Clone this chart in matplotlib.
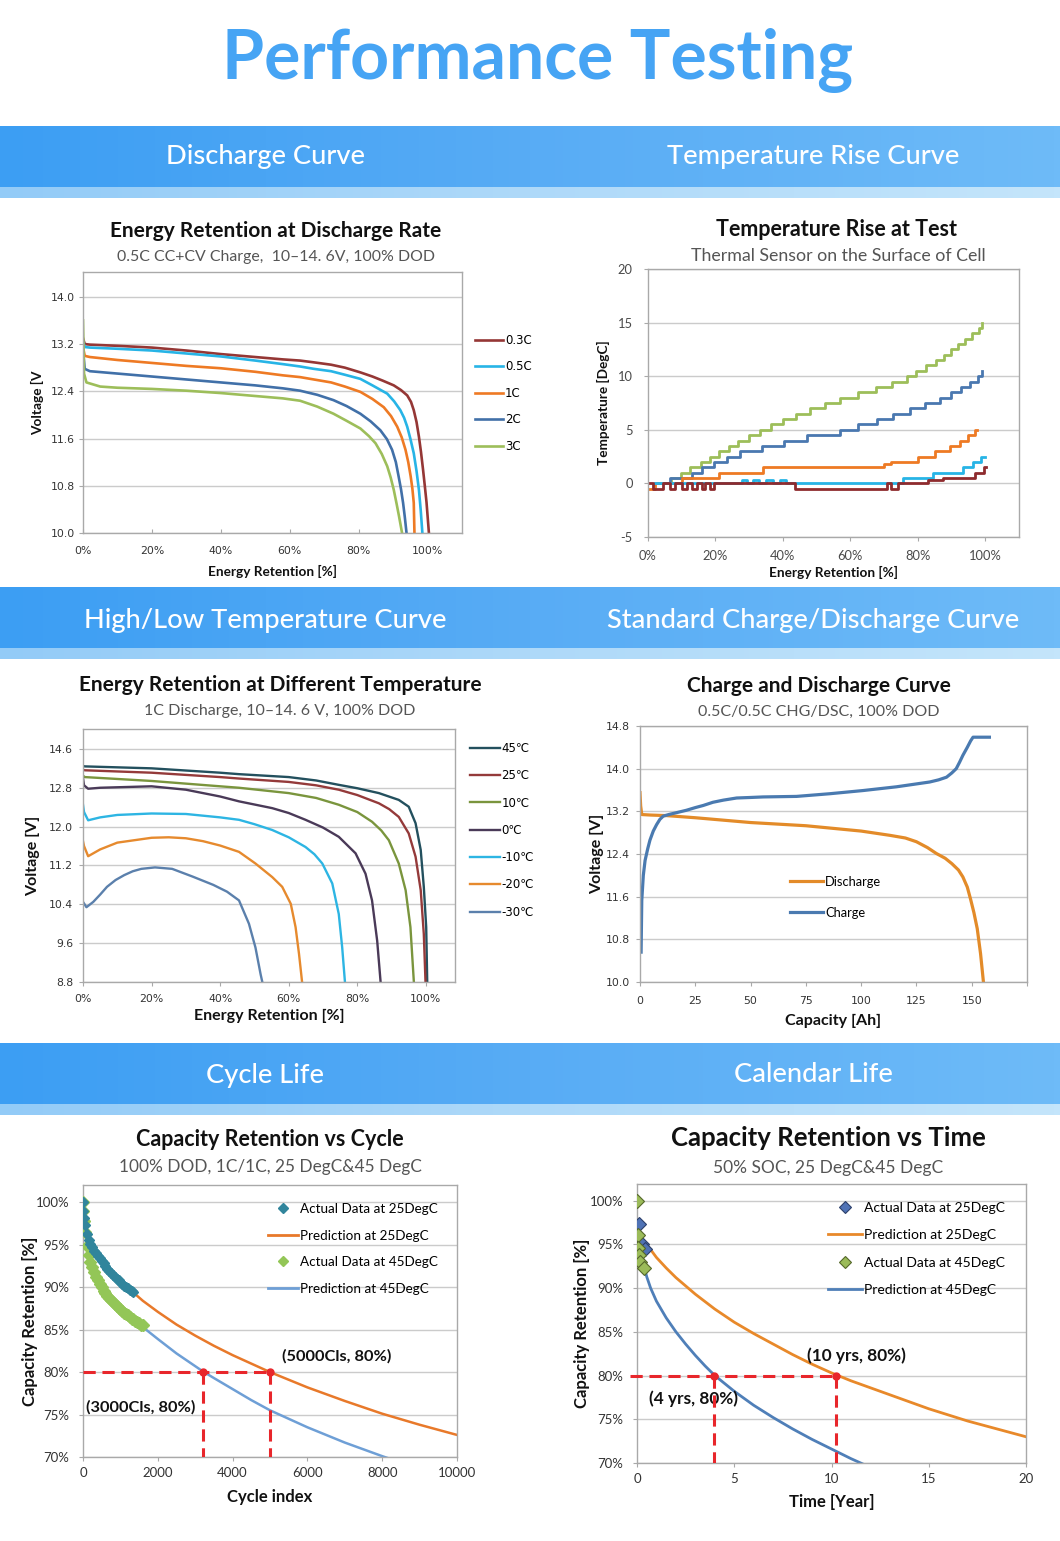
import numpy as np
import matplotlib
matplotlib.use('Agg')
import matplotlib.pyplot as plt
from matplotlib.colors import LinearSegmentedColormap
from matplotlib.ticker import FuncFormatter

plt.rcParams['axes.unicode_minus'] = False

W, H = 1060, 1541
fig = plt.figure(figsize=(W / 100, H / 100), dpi=100)
fig.patch.set_facecolor('white')

# ------------------------------------------------------------------ data
# Panel 1: Energy retention at discharge rate (x in %, voltage in V)
rate_labels = ['0.3C', '0.5C', '1C', '2C', '3C']
rate_colors = ['#953735', '#27B4E6', '#EE7A24', '#4170A8', '#9DBE5A']
r03_x = [0, 0.5, 2, 10, 20, 30, 40, 50, 58, 63, 67, 72, 76, 80.5, 84, 87, 90.2, 92.3, 94.1, 95.2,
         96, 96.8, 97.5, 98.1, 98.7, 99.2, 99.7, 100.4]
r03_v = [13.3, 13.2, 13.19, 13.17, 13.14, 13.09, 13.03, 12.98, 12.94, 12.92, 12.89, 12.85, 12.8,
         12.72, 12.65, 12.58, 12.5, 12.42, 12.33, 12.22, 12.08, 11.88, 11.63, 11.37, 11.07, 10.8,
         10.52, 10.0]
r05_x = [0, 0.5, 2, 10, 20, 30, 40, 50, 58, 63, 67, 72, 76, 80.5, 84, 88.3, 90.3, 92.1, 93.2, 94.1,
         95, 96, 96.8, 97.5, 98.0, 98.5]
r05_v = [13.25, 13.15, 13.14, 13.12, 13.09, 13.04, 12.99, 12.92, 12.86, 12.82, 12.78, 12.74, 12.68,
         12.61, 12.5, 12.36, 12.23, 12.08, 11.95, 11.8, 11.6, 11.35, 11.05, 10.73, 10.4, 10.0]
r1_x = [0, 0.5, 2, 10, 20, 30, 40, 50, 58, 63, 67, 72, 76, 80.5, 84, 87.3, 89.4, 91.2, 92.5, 93.6,
        94.4, 95.1, 95.6, 96, 96.2]
r1_v = [13.15, 13.0, 12.98, 12.93, 12.88, 12.83, 12.79, 12.73, 12.67, 12.64, 12.6, 12.55, 12.48,
        12.39, 12.27, 12.13, 11.98, 11.8, 11.62, 11.41, 11.2, 10.96, 10.75, 10.51, 10.0]
r2_x = [0, 0.5, 2, 10, 20, 30, 40, 50, 58, 63, 68, 72.7, 76.5, 80.5, 83.5, 86.3, 88.2, 89.7, 90.8,
        91.6, 92.3, 92.9, 93.4, 93.9]
r2_v = [13.1, 12.78, 12.74, 12.7, 12.65, 12.6, 12.55, 12.5, 12.45, 12.41, 12.34, 12.25, 12.15,
        12.02, 11.89, 11.74, 11.59, 11.41, 11.2, 10.96, 10.74, 10.51, 10.27, 10.0]
r3_x = [0, 0.3, 1, 5, 10, 20, 30, 40, 50, 58, 63, 68, 72.7, 76.5, 80.5, 83, 84.9, 86.7, 88.3, 89.3,
        90.2, 91.0, 91.7, 92.2, 92.6]
r3_v = [13.6, 12.7, 12.55, 12.48, 12.46, 12.44, 12.41, 12.37, 12.32, 12.28, 12.24, 12.14, 12.02,
        11.9, 11.77, 11.64, 11.52, 11.34, 11.13, 10.94, 10.73, 10.5, 10.29, 10.13, 10.0]

# Panel 2: Temperature rise (step data, x in %, T in DegC)
tr3_x = [3.5, 6.8, 9.7, 12.6, 15.6, 18.4, 21.1, 23.9, 26.6, 29.8, 33.1, 36.4, 40.1, 44.0, 47.9, 52.4,
         56.9, 62.4, 67.7, 72.2, 76.7, 79.6, 82.5, 85.4, 87.8, 89.9, 92.0, 94.0, 96.1, 98.0, 99.0]
tr3_T = [0.0, 0.5, 1.0, 1.5, 2.0, 2.5, 3.0, 3.5, 4.0, 4.5, 5.0, 5.5, 6.0, 6.5, 7.0, 7.5,
         8.0, 8.5, 9.0, 9.5, 10.0, 10.5, 11.0, 11.5, 12.0, 12.5, 13.0, 13.5, 14.0, 14.5, 15.0]
tr2_x = [2, 6.5, 13.0, 16.1, 19.6, 23.4, 27.2, 33.8, 40.4, 47.0, 56.9, 62.4, 67.8, 72.7, 77.6, 82.1,
         86.6, 89.9, 92.9, 95.5, 97.8, 99.0]
tr2_T = [0.0, 0.5, 1.0, 1.5, 2.0, 2.5, 3.0, 3.5, 4.0, 4.5, 5.0, 5.5, 6.0, 6.5, 7.0, 7.5,
         8.0, 8.5, 9.0, 9.5, 10.0, 10.5]
tr1_x = [0, 2, 10, 21, 34, 70, 72, 80, 85, 89.5, 92.5, 95, 97, 97.5]
tr1_T = [-0.5, 0.0, 0.5, 1.0, 1.5, 1.8, 2.0, 2.5, 3.0, 3.5, 4.0, 4.5, 5.0, 5.0]
tr05_x = [2, 28, 29.5, 31, 33, 35, 37, 39, 41, 75.5, 84.5, 93.5, 96.5, 98.8, 99.8]
tr05_T = [0.0, 0.3, 0.0, 0.3, 0.0, 0.3, 0.0, 0.3, 0.0, 0.5, 1.0, 1.5, 2.0, 2.5, 2.5]
tr03_x = [0, 1.5, 4.5, 6.5, 8, 10, 11.5, 13, 14.5, 16, 17, 18.5, 19.5, 20.5, 43.5, 71, 72, 74,
          83, 87.5, 97, 99.6, 100.3]
tr03_T = [0, -0.5, 0, -0.5, 0, -0.5, 0, -0.5, 0, -0.5, 0, -0.5, 0, 0, -0.5, 0, -0.5, 0,
          0.3, 0.5, 1.0, 1.5, 1.5]

# Panel 3: Energy retention at different temperature
temp_labels = ['45\u2103', '25\u2103', '10\u2103', '0\u2103', '-10\u2103', '-20\u2103', '-30\u2103']
temp_colors = ['#23505E', '#943A3A', '#7A953D', '#4A3A58', '#2DB5E3', '#E68A2E', '#5B80AC']
t45_x = [0, 0.5, 20, 40, 45.5, 60, 68, 74.6, 80, 86.3, 92.1, 95, 97, 98.5, 99.4, 100.1, 100.4]
t45_v = [13.25, 13.24, 13.2, 13.11, 13.08, 13.02, 12.95, 12.86, 12.79, 12.69, 12.55, 12.41, 12.07,
         11.52, 10.76, 9.93, 8.8]
t25_x = [0, 0.5, 20, 40, 45.5, 60, 68, 74.6, 80, 86.3, 89.3, 92.1, 95, 97, 98.5, 99.4, 99.9]
t25_v = [13.17, 13.16, 13.11, 13.02, 12.99, 12.92, 12.85, 12.76, 12.65, 12.48, 12.36, 12.2, 11.86,
         11.38, 10.69, 9.79, 8.8]
t10_x = [0, 0.5, 20, 40, 45.5, 60, 68, 74.6, 80, 84.3, 87, 89.2, 92.1, 94.1, 95.5, 96.5]
t10_v = [13.05, 13.02, 12.94, 12.83, 12.8, 12.69, 12.59, 12.45, 12.3, 12.1, 11.92, 11.72, 11.24,
         10.69, 9.93, 8.8]
t0_x = [0, 0.3, 1.5, 5, 20, 30, 40, 45.5, 55.2, 60, 64.9, 70, 74.6, 79.5, 82.4, 84.3, 85.8, 86.8]
t0_v = [13.0, 12.85, 12.78, 12.8, 12.83, 12.76, 12.62, 12.52, 12.38, 12.28, 12.14, 11.98, 11.79,
        11.45, 11.03, 10.48, 9.65, 8.8]
tm10_x = [0, 0.3, 1.5, 5, 10, 20, 30, 40, 45.5, 50, 55.2, 60, 64.9, 67.5, 69.8, 72.7, 74.6, 75.6, 76.4]
tm10_v = [12.45, 12.3, 12.13, 12.19, 12.24, 12.27, 12.26, 12.19, 12.14, 12.05, 11.93, 11.78, 11.58,
          11.43, 11.24, 10.83, 10.2, 9.51, 8.8]
tm20_x = [0, 0.3, 1.5, 5, 10, 20, 25, 30, 35, 40, 45.5, 50.3, 55.2, 58.1, 60.6, 62, 63, 63.9]
tm20_v = [11.7, 11.6, 11.39, 11.53, 11.67, 11.77, 11.78, 11.76, 11.7, 11.61, 11.48, 11.24, 10.96,
          10.76, 10.41, 9.93, 9.38, 8.8]
tm30_x = [0, 1, 3, 5, 7, 9.5, 12, 14.5, 17, 21, 26, 32, 38, 42, 45.5, 48.4, 50.3, 51.8, 52.3]
tm30_v = [10.45, 10.34, 10.45, 10.6, 10.76, 10.9, 11.0, 11.08, 11.13, 11.16, 11.13, 10.97, 10.8,
          10.66, 10.48, 10.0, 9.51, 8.96, 8.8]
p3_yticks = [8.8, 9.6, 10.4, 11.2, 12.0, 12.8, 13.6]
p3_yticklabels = ['8.8', '9.6', '10.4', '11.2', '12.0', '12.8', '14.6']

# Panel 4: charge / discharge (capacity Ah, voltage V)
dis_x = [0, 0.3, 0.8, 5, 12, 25, 50, 75, 100, 113, 120, 125, 130, 134, 138, 141, 144, 146, 148,
         149.5, 151, 152.5, 154, 155.3]
dis_v = [13.55, 13.3, 13.14, 13.13, 13.12, 13.08, 12.99, 12.93, 12.83, 12.75, 12.7, 12.63, 12.52,
         12.41, 12.32, 12.22, 12.1, 11.97, 11.78, 11.55, 11.3, 11.0, 10.53, 10.0]
chg_x = [0.5, 0.8, 1.5, 2.3, 3.5, 4.5, 6, 7.5, 9, 10.5, 13, 15, 21, 25, 28.6, 33, 37.7, 43.7, 50,
         55.7, 70.8, 85.8, 100.9, 116, 131, 135, 138.6, 141, 143, 144.5, 146, 148, 149.5, 150.6, 158]
chg_v = [10.56, 11.53, 12.0, 12.28, 12.5, 12.66, 12.83, 12.95, 13.05, 13.11, 13.14, 13.16, 13.22,
         13.27, 13.31, 13.37, 13.41, 13.45, 13.46, 13.47, 13.48, 13.53, 13.59, 13.66, 13.75, 13.79,
         13.84, 13.92, 14.0, 14.12, 14.25, 14.4, 14.52, 14.59, 14.59]

# Panel 5: cycle life
c25_cyc = [0, 10, 25, 50, 100, 150, 200, 250, 300, 350, 400, 450, 500, 550, 600, 650, 700, 750,
           800, 850, 900, 950, 1000, 1050, 1100, 1150, 1200, 1250, 1300, 1350]
c25_ret = [100.0, 99.0, 98.2, 97.3, 96.3, 95.6, 95.1, 94.7, 94.3, 94.0, 93.7, 93.4, 93.1, 92.8,
           92.5, 92.2, 91.9, 91.7, 91.4, 91.2, 91.0, 90.8, 90.6, 90.4, 90.2, 90.0, 89.9, 89.7, 89.6, 89.4]
c45_cyc = [0, 10, 25, 50, 100, 150, 200, 250, 300, 350, 400, 450, 500, 550, 600, 650, 700, 750,
           800, 850, 900, 950, 1000, 1050, 1100, 1150, 1200, 1250, 1300, 1350, 1400, 1450, 1500,
           1550, 1600]
c45_ret = [100.0, 99.0, 97.8, 96.5, 94.8, 93.8, 93.0, 92.4, 91.8, 91.2, 90.8, 90.4, 90.0, 89.6,
           89.3, 89.0, 88.7, 88.5, 88.2, 88.0, 87.8, 87.6, 87.4, 87.2, 87.0, 86.8, 86.7, 86.5, 86.3,
           86.2, 86.0, 85.9, 85.8, 85.6, 85.5]
pc25_cyc = [1340, 1600, 2000, 2500, 3000, 3500, 4000, 4500, 5000, 5500, 6000, 7000, 8000, 9000, 10000]
pc25_ret = [89.4, 88.4, 87.1, 85.6, 84.3, 83.1, 82.0, 81.0, 80.0, 79.1, 78.2, 76.6, 75.1, 73.8, 72.6]
pc45_cyc = [1600, 2000, 2500, 3000, 3200, 3500, 4000, 4500, 5000, 5500, 6000, 7000, 8000, 8200]
pc45_ret = [85.3, 83.9, 82.2, 80.7, 80.1, 79.3, 78.0, 76.7, 75.5, 74.5, 73.5, 71.7, 70.1, 69.8]
eol_ret = 80
eol_cyc_25 = 5000
eol_cyc_45 = 3200

# Panel 6: calendar life
k25_t = [0.09, 0.05, 0.26, 0.43]
k25_ret = [97.3, 95.3, 95.0, 94.5]
k45_t = [0.0, 0.05, 0.07, 0.1, 0.15, 0.35]
k45_ret = [100.0, 96.1, 94.6, 93.8, 93.0, 92.3]
pk25_t = [0.34, 0.7, 1.0, 1.5, 2.0, 3.0, 4.0, 5.0, 6.0, 7.0, 8.0, 9.0, 10.0, 11.0, 12.0, 13.0,
          14.0, 15.0, 16.0, 17.0, 18.0, 19.0, 20.0]
pk25_ret = [95.4, 94.4, 93.5, 92.3, 91.2, 89.3, 87.6, 86.1, 84.8, 83.6, 82.4, 81.3, 80.3, 79.4,
            78.6, 77.8, 77.0, 76.2, 75.5, 74.8, 74.2, 73.6, 73.0]
pk45_t = [0.05, 0.2, 0.35, 0.5, 0.7, 1.0, 1.5, 2.0, 2.5, 3.0, 3.5, 4.0, 5.0, 6.0, 7.0, 8.0, 9.0,
          10.0, 11.0, 11.7]
pk45_ret = [97.6, 94.6, 92.6, 91.3, 90.0, 88.5, 86.6, 85.0, 83.6, 82.3, 81.1, 80.0, 78.2, 76.6,
            75.2, 73.9, 72.7, 71.6, 70.5, 69.8]
eol_yr_25 = 10.25
eol_yr_45 = 3.95

# ------------------------------------------------------------------ helpers
LATO = ['Lato', 'DejaVu Sans']
MONO = ['DejaVu Sans', 'Noto Sans CJK SC']
GRID = '#CBCBCB'
SPINE = '#A9A9A9'
RED = '#E8262B'


def px_axes(l, t, r, b):
    return fig.add_axes([l / W, 1 - b / H, (r - l) / W, (b - t) / H])


def style(ax, tick_family, tick_size, xdir='out', ydir='out', xpad=4, ypad=3, tick_color='#333333'):
    for s in ax.spines.values():
        s.set_color(SPINE)
        s.set_linewidth(1.0)
    ax.grid(axis='y', color=GRID, lw=1.0)
    ax.set_axisbelow(True)
    ax.tick_params(axis='x', direction=xdir, length=3, width=0.8, color=SPINE, pad=xpad,
                   labelsize=tick_size, labelcolor=tick_color)
    ax.tick_params(axis='y', direction=ydir, length=3, width=0.8, color=SPINE, pad=ypad,
                   labelsize=tick_size, labelcolor=tick_color)
    for lab in ax.get_xticklabels() + ax.get_yticklabels():
        lab.set_family(tick_family)


def labels(ax, xl, yl, xfrac, yfrac, size):
    ax.set_xlabel(xl, fontsize=size, fontweight='bold', family=LATO, color='#111111')
    ax.xaxis.label.set_va('center')
    ax.xaxis.set_label_coords(0.5, xfrac)
    ax.set_ylabel(yl, fontsize=size, fontweight='bold', family=LATO, color='#111111')
    ax.yaxis.label.set_va('center')
    ax.yaxis.set_label_coords(yfrac, 0.5)


pct_fmt = FuncFormatter(lambda v, p: f'{v:.0f}%')

# ------------------------------------------------------------------ background
bg = fig.add_axes([0, 0, 1, 1], zorder=0)
bg.set_axis_off()
dark = LinearSegmentedColormap.from_list('dark', ['#3C9EF3', '#58ACF5', '#6EBBF8'])
light = LinearSegmentedColormap.from_list('light', ['#93CBF7', '#AED9F9', '#C4E5FB'])
grad = np.linspace(0, 1, 256)[None, :]
for top, mid, bot in [(126, 187, 198), (587, 648, 659), (1043, 1104, 1115)]:
    bg.imshow(grad, cmap=dark, extent=[0, W, mid, top], aspect='auto', interpolation='bilinear')
    bg.imshow(grad, cmap=light, extent=[0, W, bot, mid], aspect='auto', interpolation='bilinear')
bg.set_xlim(0, W)
bg.set_ylim(H, 0)

bg.text(538, 60, 'Performance Testing', ha='center', va='center', fontsize=49,
        fontweight='bold', family=LATO, color='#46A4F4')
headers = [(265, 156, 'Discharge Curve'), (813, 156, 'Temperature Rise Curve'),
           (265, 620, 'High/Low Temperature Curve'), (813, 620, 'Standard Charge/Discharge Curve'),
           (265, 1075, 'Cycle Life'), (813, 1075, 'Calendar Life')]
for x, y, s in headers:
    bg.text(x, y, s, ha='center', va='center', fontsize=19.6, fontweight='medium', family=LATO,
            color='white')

titles = [(276, 231, 'Energy Retention at Discharge Rate', 15),
          (837, 229, 'Temperature Rise at Test', 15.5),
          (280, 685, 'Energy Retention at Different Temperature', 15),
          (819, 686, 'Charge and Discharge Curve', 15),
          (270, 1140, 'Capacity Retention vs Cycle', 15.5),
          (828, 1138, 'Capacity Retention vs Time', 18.5)]
for x, y, s, fs in titles:
    bg.text(x, y, s, ha='center', va='center', fontsize=fs, fontweight='bold', family=LATO,
            color='#111111')
subtitles = [(276, 257, '0.5C CC+CV Charge,  10\u201314. 6V, 100% DOD', 11.4),
             (838, 256, 'Thermal Sensor on the Surface of Cell', 12.8),
             (280, 711, '1C Discharge, 10\u201314. 6 V, 100% DOD', 11.5),
             (819, 712, '0.5C/0.5C CHG/DSC, 100% DOD', 11.5),
             (270, 1167, '100% DOD, 1C/1C, 25 DegC&45 DegC', 12.4),
             (828, 1168, '50% SOC, 25 DegC&45 DegC', 12.5)]
for x, y, s, fs in subtitles:
    bg.text(x, y, s, ha='center', va='center', fontsize=fs, family=LATO, color='#555555')

# ------------------------------------------------------------------ panel 1
ax1 = px_axes(83, 272, 462, 533)
for xs, vs, lab, col in zip([r03_x, r05_x, r1_x, r2_x, r3_x], [r03_v, r05_v, r1_v, r2_v, r3_v],
                            rate_labels, rate_colors):
    ax1.plot(xs, vs, color=col, lw=1.9, label=lab)
ax1.set_xlim(0, 110)
ax1.set_ylim(10, 14.42)
ax1.set_xticks([0, 20, 40, 60, 80, 100])
ax1.xaxis.set_major_formatter(pct_fmt)
ax1.set_yticks([10.0, 10.8, 11.6, 12.4, 13.2, 14.0])
ax1.yaxis.set_major_formatter(FuncFormatter(lambda v, p: f'{v:.1f}'))
style(ax1, MONO, 7.8, xdir='in', ydir='out', xpad=9, ypad=3)
labels(ax1, 'Energy Retention [%]', 'Voltage [V', -0.146, -0.119, 9.8)
ax1.legend(loc='upper left', bbox_to_anchor=((475 - 83) / 379, (533 - 334) / 261), frameon=False,
           borderpad=0, borderaxespad=0, handlelength=2.37, handletextpad=0.17, labelspacing=1.14,
           prop={'family': MONO, 'size': 8.5})

# ------------------------------------------------------------------ panel 2
ax2 = px_axes(648, 269, 1019, 537)
for xs, ts, col in zip([tr3_x, tr2_x, tr1_x, tr05_x, tr03_x], [tr3_T, tr2_T, tr1_T, tr05_T, tr03_T],
                       ['#9DBE5A', '#4A78B0', '#EE7A24', '#27B4E6', '#8E2B2E']):
    ax2.plot(xs, ts, color=col, lw=2.0, drawstyle='steps-post')
ax2.set_xlim(0, 110)
ax2.set_ylim(-5, 20)
ax2.set_xticks([0, 20, 40, 60, 80, 100])
ax2.xaxis.set_major_formatter(pct_fmt)
ax2.set_yticks([-5, 0, 5, 10, 15, 20])
style(ax2, LATO, 9.3, xdir='out', ydir='out', xpad=6, ypad=8, tick_color='#4A4A4A')
labels(ax2, 'Energy Retention [%]', 'Temperature [DegC]', -0.134, -0.119, 9.8)

# ------------------------------------------------------------------ panel 3
ax3 = px_axes(83, 729, 455, 982)
for xs, vs, lab, col in zip([t45_x, t25_x, t10_x, t0_x, tm10_x, tm20_x, tm30_x],
                            [t45_v, t25_v, t10_v, t0_v, tm10_v, tm20_v, tm30_v],
                            temp_labels, temp_colors):
    ax3.plot(xs, vs, color=col, lw=1.7, label=lab)
ax3.set_xlim(0, 108.5)
ax3.set_ylim(8.8, 14.01)
ax3.set_xticks([0, 20, 40, 60, 80, 100])
ax3.xaxis.set_major_formatter(pct_fmt)
ax3.set_yticks(p3_yticks)
ax3.set_yticklabels(p3_yticklabels)
style(ax3, MONO, 7.8, xdir='out', ydir='out', xpad=6, ypad=4)
labels(ax3, 'Energy Retention [%]', 'Voltage [V]', -0.134, -0.134, 11.5)
ax3.legend(loc='upper left', bbox_to_anchor=((470 - 83) / 372, (982 - 742) / 253), frameon=False,
           borderpad=0, borderaxespad=0, handlelength=2.5, handletextpad=0.15, labelspacing=1.21,
           prop={'family': MONO, 'size': 8.5})

# ------------------------------------------------------------------ panel 4
ax4 = px_axes(640, 726, 1027, 982)
ax4.plot(dis_x, dis_v, color='#E38B29', lw=2.3, label='Discharge')
ax4.plot(chg_x, chg_v, color='#4A7AB0', lw=2.3, label='Charge')
ax4.set_xlim(0, 175)
ax4.set_ylim(10, 14.8)
ax4.set_xticks([0, 25, 50, 75, 100, 125, 150, 175])
ax4.set_xticklabels(['0', '25', '50', '75', '100', '125', '150', ''])
ax4.set_yticks([10.0, 10.8, 11.6, 12.4, 13.2, 14.0, 14.8])
ax4.yaxis.set_major_formatter(FuncFormatter(lambda v, p: f'{v:.1f}'))
style(ax4, MONO, 7.8, xdir='out', ydir='out', xpad=7, ypad=4)
labels(ax4, 'Capacity [Ah]', 'Voltage [V]', -0.152, -0.111, 11.5)
ax4.legend(loc='upper left', bbox_to_anchor=((790 - 640) / 387, (982 - 876) / 256), frameon=False,
           borderpad=0, borderaxespad=0, handlelength=2.55, handletextpad=0.15, labelspacing=1.46,
           prop={'family': LATO, 'size': 9.3})

# ------------------------------------------------------------------ panel 5
ax5 = px_axes(83, 1185, 457, 1457)
ax5.plot(c45_cyc, c45_ret, ls='none', marker='D', ms=6.5, color='#93C657', mec='#93C657', zorder=3)
ax5.plot(c25_cyc, c25_ret, ls='none', marker='D', ms=5.5, color='#31859C', mec='#31859C', zorder=3)
ax5.plot(pc25_cyc, pc25_ret, color='#E8792A', lw=1.8, zorder=2)
ax5.plot(pc45_cyc, pc45_ret, color='#6E9FD6', lw=1.8, zorder=2)
ax5.plot([0, eol_cyc_25], [eol_ret, eol_ret], color=RED, lw=2.2, dashes=(4, 2.2), zorder=4)
ax5.plot([eol_cyc_45, eol_cyc_45], [eol_ret, 70], color=RED, lw=2.2, dashes=(4, 2.2), zorder=4)
ax5.plot([eol_cyc_25, eol_cyc_25], [eol_ret, 70], color=RED, lw=2.2, dashes=(4, 2.2), zorder=4)
ax5.plot([eol_cyc_45, eol_cyc_25], [eol_ret, eol_ret], ls='none', marker='o', ms=5, color=RED, zorder=5)
ax5.text(5312, 81.9, '(5000Cls, 80%)', fontsize=11.8, fontweight='bold', family=LATO, va='center',
         ha='left', color='#111111')
ax5.text(90, 75.8, '(3000Cls, 80%)', fontsize=11.8, fontweight='bold', family=LATO, va='center',
         ha='left', color='#111111')
ax5.set_xlim(0, 10000)
ax5.set_ylim(70, 102.04)
ax5.set_xticks([0, 2000, 4000, 6000, 8000, 10000])
ax5.set_yticks([70, 75, 80, 85, 90, 95, 100])
ax5.yaxis.set_major_formatter(pct_fmt)
style(ax5, LATO, 9.5, xdir='out', ydir='out', xpad=4, ypad=7)
labels(ax5, 'Cycle index', 'Capacity Retention [%]', -0.147, -0.142, 12)
h5 = [plt.Line2D([], [], ls='none', marker='D', ms=5, color='#31859C'),
      plt.Line2D([], [], color='#E8792A', lw=2),
      plt.Line2D([], [], ls='none', marker='D', ms=5, color='#93C657'),
      plt.Line2D([], [], color='#6E9FD6', lw=2)]
ax5.legend(h5, ['Actual Data at 25DegC', 'Prediction at 25DegC', 'Actual Data at 45DegC',
                'Prediction at 45DegC'], loc='upper left',
           bbox_to_anchor=((268 - 83) / 374, (1457 - 1203) / 272), frameon=False, borderpad=0,
           borderaxespad=0, handlelength=2.2, handletextpad=0.15, labelspacing=1.08,
           prop={'family': LATO, 'size': 9.7})

# ------------------------------------------------------------------ panel 6
ax6 = px_axes(637, 1184, 1026, 1463)
ax6.plot(pk25_t, pk25_ret, color='#E8892A', lw=2.0, zorder=2)
ax6.plot(pk45_t, pk45_ret, color='#4F7FB8', lw=2.0, zorder=2)
ax6.plot(k25_t, k25_ret, ls='none', marker='D', ms=7, color='#4F72B5', mec='#2C3F6A', mew=0.8, zorder=3)
ax6.plot(k45_t, k45_ret, ls='none', marker='D', ms=7, color='#9BBB59', mec='#55682A', mew=0.8, zorder=3)
ax6.plot([-0.35, eol_yr_25], [eol_ret, eol_ret], color=RED, lw=2.2, dashes=(4, 2.2), zorder=4,
         clip_on=False)
ax6.plot([eol_yr_45, eol_yr_45], [eol_ret, 70], color=RED, lw=2.2, dashes=(4, 2.2), zorder=4)
ax6.plot([eol_yr_25, eol_yr_25], [eol_ret, 70], color=RED, lw=2.2, dashes=(4, 2.2), zorder=4)
ax6.plot([eol_yr_45, eol_yr_25], [eol_ret, eol_ret], ls='none', marker='o', ms=5, color=RED, zorder=5)
ax6.text(8.74, 82.3, '(10 yrs, 80%)', fontsize=12.4, fontweight='bold', family=LATO, va='center',
         ha='left', color='#111111')
ax6.text(0.6, 77.4, '(4 yrs, 80%)', fontsize=12.4, fontweight='bold', family=LATO, va='center',
         ha='left', color='#111111')
ax6.set_xlim(0, 20)
ax6.set_ylim(70, 101.9)
ax6.set_xticks([0, 5, 10, 15, 20])
ax6.set_yticks([70, 75, 80, 85, 90, 95, 100])
ax6.yaxis.set_major_formatter(pct_fmt)
style(ax6, LATO, 9.5, xdir='out', ydir='out', xpad=4, ypad=7)
labels(ax6, 'Time [Year]', 'Capacity Retention [%]', -0.14, -0.141, 12)
h6 = [plt.Line2D([], [], ls='none', marker='D', ms=6, color='#4F72B5', mec='#2C3F6A', mew=0.8),
      plt.Line2D([], [], color='#E8892A', lw=2),
      plt.Line2D([], [], ls='none', marker='D', ms=6, color='#9BBB59', mec='#55682A', mew=0.8),
      plt.Line2D([], [], color='#4F7FB8', lw=2)]
ax6.legend(h6, ['Actual Data at 25DegC', 'Prediction at 25DegC', 'Actual Data at 45DegC',
                'Prediction at 45DegC'], loc='upper left',
           bbox_to_anchor=((828 - 637) / 389, (1463 - 1202) / 279), frameon=False, borderpad=0,
           borderaxespad=0, handlelength=2.45, handletextpad=0.15, labelspacing=1.10,
           prop={'family': LATO, 'size': 10})

fig.savefig('out.png', dpi=100, facecolor='white')
